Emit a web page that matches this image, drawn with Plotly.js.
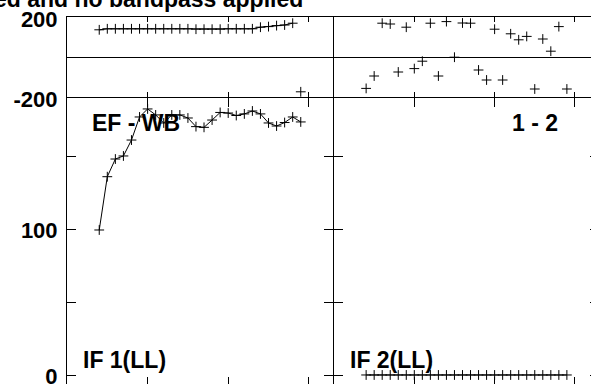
<!DOCTYPE html>
<html>
<head>
<meta charset="utf-8">
<script src="https://cdn.plot.ly/plotly-3.0.1.min.js"></script>
<style>
html,body{margin:0;padding:0;overflow:hidden;background:#fff;width:591px;height:384px;}
#chart{width:610px;height:400px;}
</style>
</head>
<body>
<div id="chart"></div>
<script>
// Channels plotted in each panel
var channels = [4,5,6,7,8,9,10,11,12,13,14,15,16,17,18,19,20,21,22,23,24,25,26,27,28,29];

// IF 1 (LL) — left panel
var ampIF1   = [100,136.5,148.6,150.7,161.6,177.4,182.9,178.8,173.3,178.8,178.8,176.7,170.8,170.3,175.3,180.5,180.1,178.4,179.5,181.5,179.5,173.3,171.2,173.6,177.4,174.0];
var phaseIF1 = [136,141,141,141,141,141,141,141,141,141,141,141,139,139,139,139,141,141,141,141,149,152,157,160,169,-174];

// IF 2 (LL) — right panel
var ampIF2   = [0.7,0.7,0.7,0.7,0.7,0.7,0.7,0.7,0.7,0.7,0.7,0.7,0.7,0.7,0.7,0.7,0.7,0.7,0.7,0.7,0.7,0.7,0.7,0.7,0.7,0.7];
var phaseIF2 = [-157,-95,169,165,-75,149,-58,-21,169,-95,177,-1,170,169,-65,-115,139,-115,116,86,103,-160,90,29,152,-160];

// Axis tick values / labels
var ampTicks = [0,50,100,150];
var ampTickText = ['0','','100',''];
var phaseTicks = [-200,0,200];
var phaseTickText = ['-200','','200'];
var chanTicks = [10,20,30];

// Texts
var titleText = 'ed and no bandpass applied';
var baselineText = 'EF - WB';
var stokesText = '1 - 2';
var if1Text = 'IF 1(LL)';
var if2Text = 'IF 2(LL)';

// break phase line at wraps
function wrapBreak(xs, ys){
  var ox=[], oy=[];
  for (var i=0;i<ys.length;i++){
    if (i>0 && Math.abs(ys[i]-ys[i-1])>180){ ox.push(null); oy.push(null); }
    ox.push(xs[i]); oy.push(ys[i]);
  }
  return {x:ox,y:oy};
}

var mk = {symbol:'cross-thin-open', size:7, color:'#000', line:{color:'#000', width:1}};
var ph1 = wrapBreak(channels, phaseIF1);

var traces = [
  {x:channels, y:ampIF1, xaxis:'x', yaxis:'y', mode:'lines+markers', marker:mk, line:{color:'#000',width:1}, cliponaxis:false},
  {x:ph1.x, y:ph1.y, xaxis:'x3', yaxis:'y2', mode:'lines', line:{color:'#000',width:1}, connectgaps:false},
  {x:channels, y:phaseIF1, xaxis:'x3', yaxis:'y2', mode:'markers', marker:mk, cliponaxis:false},
  {x:channels, y:ampIF2, xaxis:'x2', yaxis:'y3', mode:'lines+markers', marker:mk, line:{color:'#000',width:1}, cliponaxis:false},
  {x:channels, y:phaseIF2, xaxis:'x4', yaxis:'y4', mode:'markers', marker:mk, cliponaxis:false}
];

var tf = {family:'Liberation Sans, Arial, sans-serif', size:22, color:'#000', weight:'bold'};
var af = {family:'Liberation Sans, Arial, sans-serif', size:23, color:'#000', weight:'bold'};
var phDom = [0.7832, 1];
var amDom = [0, 0.7805];
var lDom = [0, 0.5];
var rDom = [0.5019, 1];

function xax(dom, anchor, tlen){
  return {domain:dom, anchor:anchor, range:[0,33], showgrid:false, zeroline:false,
    showline:true, linecolor:'#000', linewidth:1, mirror:'ticks',
    ticks:'inside', ticklen:tlen, tickwidth:1, tickcolor:'#000',
    tickvals:chanTicks, showticklabels:false};
}
function yamp(anchor, labels){
  return {domain:amDom, anchor:anchor, range:[-6.85,190.4], showgrid:false, zeroline:false,
    showline:true, linecolor:'#000', linewidth:1, mirror:'ticks',
    ticks:'inside', ticklen:9, tickwidth:1, tickcolor:'#000',
    tickvals:ampTicks, ticktext:ampTickText, showticklabels:labels, tickfont:tf, ticklabelstandoff:4};
}
function yph(anchor, labels){
  return {domain:phDom, anchor:anchor, range:[-200,200], showgrid:false,
    zeroline:true, zerolinecolor:'#000', zerolinewidth:1,
    showline:true, linecolor:'#000', linewidth:1, mirror:true,
    ticks:'', tickvals:phaseTicks, ticktext:phaseTickText, showticklabels:labels, tickfont:tf,
    ticklabelstandoff:4, ticklabelshift:2};
}

var layout = {
  width:610, height:400,
  margin:{l:67, r:11, t:17, b:14, pad:0},
  paper_bgcolor:'#fff', plot_bgcolor:'#fff',
  showlegend:false,
  xaxis: xax(lDom,'y',9),
  xaxis2: xax(rDom,'y3',9),
  xaxis3: xax(lDom,'y2',5),
  xaxis4: xax(rDom,'y4',5),
  yaxis: yamp('x', true),
  yaxis2: yph('x3', true),
  yaxis3: yamp('x2', false),
  yaxis4: yph('x4', false),
  annotations:[
    {text:titleText, xref:'paper', yref:'paper', x:0.447, y:1.049, xanchor:'right', yanchor:'middle', showarrow:false, font:af},
    {text:baselineText, xref:'paper', yref:'paper', x:0.043, y:0.712, xanchor:'left', yanchor:'middle', showarrow:false, font:af},
    {text:stokesText, xref:'paper', yref:'paper', x:0.927, y:0.712, xanchor:'right', yanchor:'middle', showarrow:false, font:af},
    {text:if1Text, xref:'paper', yref:'paper', x:0.027, y:0.0705, xanchor:'left', yanchor:'middle', showarrow:false, font:af},
    {text:if2Text, xref:'paper', yref:'paper', x:0.528, y:0.0705, xanchor:'left', yanchor:'middle', showarrow:false, font:af}
  ]
};

Plotly.newPlot('chart', traces, layout, {displayModeBar:false, staticPlot:true});
</script>
</body>
</html>
